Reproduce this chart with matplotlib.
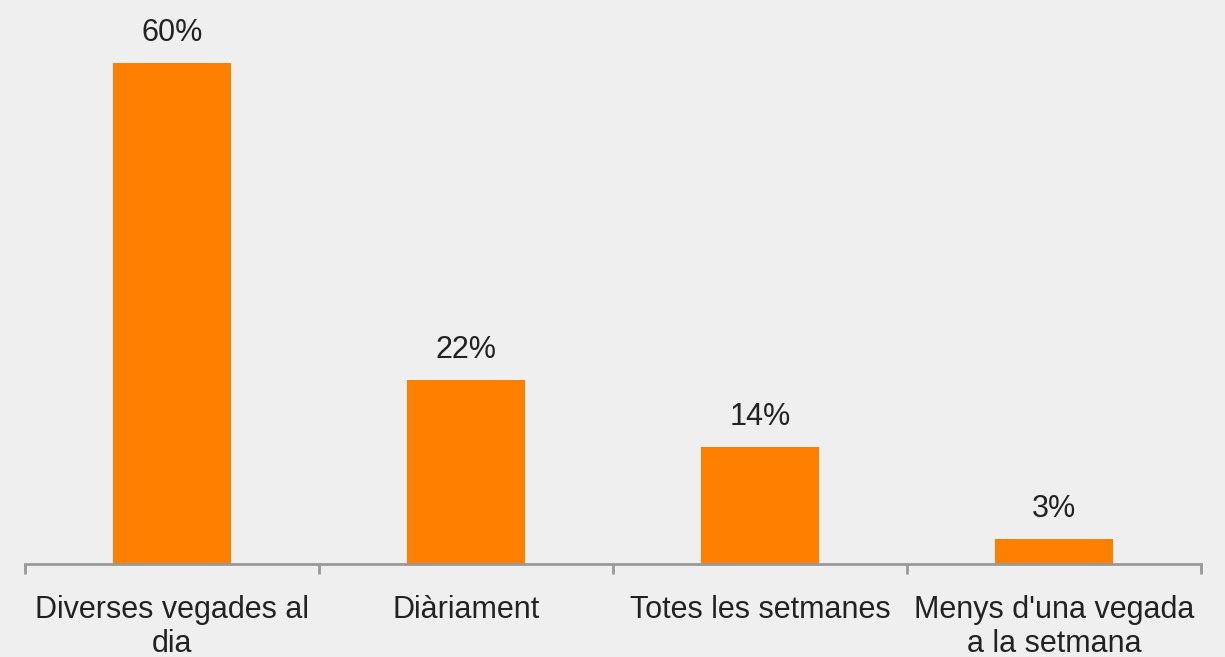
import matplotlib.pyplot as plt

plt.rcParams['font.family'] = ['Liberation Sans', 'DejaVu Sans']

categories = ["Diverses vegades al\ndia", "Diàriament", "Totes les setmanes", "Menys d'una vegada\na la setmana"]
values = [60, 22, 14, 3]
labels = ["60%", "22%", "14%", "3%"]

bg = '#efefef'
fig = plt.figure(figsize=(12.25, 6.57), dpi=100, facecolor=bg)
ax = fig.add_axes([25/1225, 93/657, 1176/1225, 564/657])
ax.set_facecolor(bg)

x = range(len(categories))
bars = ax.bar(x, values, width=0.40, color='#ff8000', zorder=2)
for b, lab in zip(bars, labels):
    ax.annotate(lab, (b.get_x() + b.get_width()/2, b.get_height()), xytext=(0, 11),
                textcoords='offset points', ha='center', va='bottom', fontsize=22, color='#222222')

ax.set_xlim(-0.5, len(categories) - 0.5)
ax.set_ylim(0, 564/8.35)

for s in ['top', 'right', 'left']:
    ax.spines[s].set_visible(False)
ax.spines['bottom'].set_color('#999999')
ax.spines['bottom'].set_linewidth(2)
ax.set_yticks([])

ax.set_xticks(list(x))
ax.set_xticklabels(categories, fontsize=22, color='#222222', linespacing=1.2)
ax.tick_params(axis='x', which='major', length=0, pad=22)
ax.set_xticks([i - 0.5 for i in range(len(categories) + 1)], minor=True)
ax.tick_params(axis='x', which='minor', length=7, width=2, color='#999999')

fig.savefig('out.png', dpi=100, facecolor=bg)
